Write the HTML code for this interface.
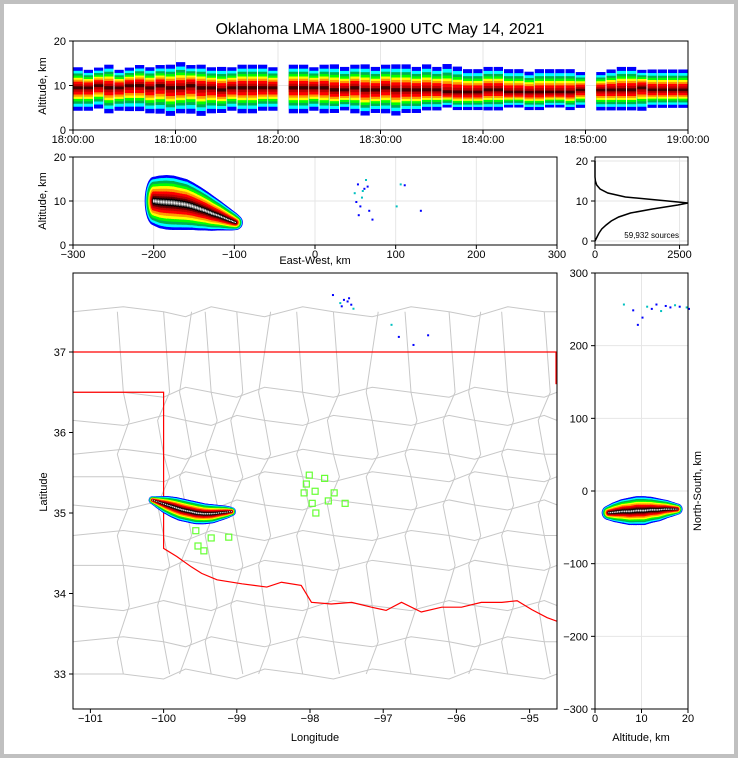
<!DOCTYPE html>
<html><head><meta charset="utf-8"><style>
html,body{margin:0;padding:0;background:#c0c0c0;}
svg{display:block;font-family:"Liberation Sans",sans-serif;}
</style></head><body>
<svg id="chart" width="738" height="758" viewBox="0 0 738 758">
<rect x="4" y="4" width="730" height="750" fill="#fff"/>
<text x="380" y="34" font-size="16" text-anchor="middle">Oklahoma LMA 1800-1900 UTC May 14, 2021</text>
<g id="layer"></g>
</svg>
<script>
// ---- data ----
const timeMinutes = [0,1,2,3,4,5,6,7,8,9,10,11,12,13,14,15,16,17,18,19,20,21,22,23,24,25,26,27,28,29,30,31,32,33,34,35,36,37,38,39,40,41,42,43,44,45,46,47,48,49,50,51,52,53,54,55,56,57,58,59];
const timeTops = [13.5,13,13.5,14,13,13.5,14,13.5,14,14,14.5,14,14,13.5,13.5,13.5,14,14,14,13.5,0,14,14,13.5,14,14,13.5,14,14,13.5,14,14,14,13.5,14,13.5,14,13.5,13,13,13.5,13.5,13,13,12.5,13,13,13,13,12.5,0,12.5,13,13.5,13.5,13,13,13,13,13];
const timeBots = [5,5,5.5,4.5,5,5,5,4.5,4.5,4,4.5,4.5,4,4.5,4.5,5,4.5,4.5,5,5,0,4.5,4.5,5,4.5,4.5,5,4.5,4,4.5,4.5,4,4.5,4.5,5,5,5.5,5,5,5,5,5,5.5,5.5,5,5,5.5,5.5,5,5.5,0,5,5,5,5,5,5.5,5.5,5.5,5.5];
const timeCore = [9.5,9.5,10,9.5,9.5,10,10,9.5,10,9.5,9.5,10,9.5,9.5,9,9.5,9.5,9.5,9.5,9.5,0,9.5,9.5,9.5,9.5,9,9,9.5,9,9,9.5,9,9,9,9,9,8.5,8.5,8.5,8.5,9,9,8.5,8.5,8.5,8.5,8.5,8.5,8.5,9,0,9,9,9,9,9.5,9,9,9,9];
const ewX = [-200,-192,-184,-176,-168,-160,-152,-144,-136,-128,-120,-112,-104,-97];
const ewAlt = [10,9.8,9.7,9.6,9.4,9.2,8.8,8.3,7.8,7.2,6.7,6.1,5.5,5];
const ewHalf = [5.5,6,6.2,6.2,6,5.8,5.4,5,4.5,4,3.4,2.8,2.2,1.6];
const ewSparseX = [48,52,55,57,60,50,62,66,53,58,64,70,105,110,130,100];
const ewSparseAlt = [12,14,9,11,13,10,15,8,7,12.5,13.5,6,14,13.8,8,9];
const histAlt = [0,1,2,3,4,5,6,7,8,9,9.5,10,11,12,13,14,15,16,20];
const histCount = [0,60,120,200,330,480,700,1050,1700,2450,2750,2150,900,380,150,50,12,0,0];
const nsAlt = [3,4.5,6,7.5,9,10.5,12,13.5,15,16.5,18];
const nsNS = [-30,-29,-28,-28,-27,-27,-26,-26,-25,-25,-25];
const nsHalf = [10,14,17,19,20,20,18,16,13,10,7];
const nsSparseAlt = [6,8,10,11,12,13,14,15,16,17,18,9,19.5,20];
const nsSparseNS = [258,250,240,255,252,258,249,256,254,257,255,230,254,252];
const blobLon = [-100.15,-100.05,-99.95,-99.85,-99.75,-99.65,-99.55,-99.45,-99.35,-99.25,-99.15,-99.05];
const blobLat = [35.16,35.13,35.1,35.07,35.04,35.02,35.0,34.99,34.99,35.0,35.01,35.02];
const blobHalf = [0.05,0.08,0.11,0.13,0.14,0.14,0.14,0.13,0.12,0.1,0.08,0.05];
const sparseLon = [-97.6,-97.55,-97.5,-97.45,-97.42,-97.58,-97.48,-97.7,-96.9,-96.8,-96.6,-96.4];
const sparseLat = [37.62,37.66,37.64,37.6,37.55,37.58,37.68,37.72,37.35,37.2,37.1,37.22];
const stationLon = [-98.01,-97.80,-98.05,-98.08,-97.93,-97.67,-97.97,-97.75,-97.52,-97.92,-99.56,-99.35,-99.11,-99.53,-99.45];
const stationLat = [35.47,35.43,35.36,35.25,35.27,35.25,35.12,35.15,35.12,35.00,34.78,34.69,34.70,34.59,34.53];
const redRiverLon = [-100.0,-99.82,-99.62,-99.48,-99.27,-98.93,-98.59,-98.39,-98.12,-97.98,-97.71,-97.43,-97.16,-96.96,-96.75,-96.48,-96.2,-95.93,-95.66,-95.38,-95.17,-94.97,-94.76,-94.58];
const redRiverLat = [34.56,34.46,34.33,34.25,34.17,34.12,34.08,34.14,34.1,33.89,33.87,33.89,33.83,33.79,33.89,33.77,33.83,33.83,33.89,33.89,33.91,33.80,33.70,33.64];
const countyLons = [-100.55,-100.0,-99.7,-99.35,-99.0,-98.62,-98.1,-97.68,-97.15,-96.62,-96.1,-95.75,-95.3,-94.8];
const countyLats = [37.5,36.5,36.15,35.73,35.45,35.1,34.72,34.35,33.85,33.4,33.0];
// ---- helpers ----
const NS='http://www.w3.org/2000/svg';
const layer=document.getElementById('layer');
function el(tag,attrs,parent){const e=document.createElementNS(NS,tag);for(const k in attrs)e.setAttribute(k,attrs[k]);(parent||layer).appendChild(e);return e;}
function txt(x,y,s,size,anchor,parent,rot){const t=el('text',{x:x,y:y,'font-size':size,'text-anchor':anchor||'middle'},parent);if(rot)t.setAttribute('transform','rotate(-90 '+x+' '+y+')');t.textContent=s;return t;}
const palette=['#0000ff','#00ffff','#00b050','#00ff00','#ffff00','#ff9900','#ff0000','#c00000','#600000','#000000','#909090','#ffffff'];
const scales=[1.0,0.9,0.8,0.7,0.6,0.5,0.4,0.3,0.22,0.15,0.09,0.04];
function lin(d0,d1,p0,p1){return v=>p0+(v-d0)*(p1-p0)/(d1-d0);}
function frame(x,y,w,h,name){const r=el('rect',{x:x,y:y,width:w,height:h,fill:'none',stroke:'#000','stroke-width':1});}
function grid(g,xs,ys,x0,x1,y0,y1){xs.forEach(x=>el('line',{x1:x,x2:x,y1:y0,y2:y1,stroke:'#e6e6e6'},g));ys.forEach(y=>el('line',{x1:x0,x2:x1,y1:y,y2:y,stroke:'#e6e6e6'},g));}
function blob(g,px,py,pr,prx){
  for(let L=0;L<palette.length;L++){
    for(let i=0;i<px.length-1;i++){for(let s=0;s<4;s++){const f=s/4;
      const x=px[i]+(px[i+1]-px[i])*f,y=py[i]+(py[i+1]-py[i])*f,r=(pr[i]+(pr[i+1]-pr[i])*f)*scales[L],rx=(prx?(prx[i]+(prx[i+1]-prx[i])*f)*scales[L]:r);
      el('ellipse',{cx:x,cy:y,rx:Math.max(rx,0.5),ry:Math.max(r,0.5),fill:palette[L]},g);}}
  }
}
// ---- panel 1: time-height ----
(function(){
 const X=lin(0,60,73,688),Y=lin(0,20,130,41);
 const g=el('g',{});
 grid(g,[0,10,20,30,40,50,60].map(X),[0,10,20].map(Y),73,688,41,130);
 const w=X(1)-X(0);
 const tp=['#0000ff','#00ffff','#00b050','#00ff00','#ffff00','#ff9900','#ff0000','#c00000','#400000'];
 const ts=[1.15,0.95,0.8,0.68,0.56,0.45,0.34,0.2,0.08];
 timeMinutes.forEach((m,i)=>{if(!timeTops[i])return;
   const top=timeTops[i],bot=timeBots[i],c=timeCore[i];
   for(let L=0;L<tp.length;L++){const s=ts[L];const t=c+(top-c)*s,b=c-(c-bot)*s;
     const r=el('rect',{x:X(m)+0.5,y:Y(t),width:w-1,height:Y(b)-Y(t),fill:tp[L]},g);
     }
 });
 frame(73,41,615,89,'time-height-frame');
 ['18:00:00','18:10:00','18:20:00','18:30:00','18:40:00','18:50:00','19:00:00'].forEach((s,i)=>{const x=X(i*10);el('line',{x1:x,x2:x,y1:130,y2:134,stroke:'#000'});txt(x,143,s,11);});
 [0,10,20].forEach(v=>{el('line',{x1:69,x2:73,y1:Y(v),y2:Y(v),stroke:'#000'});txt(66,Y(v)+4,String(v),11,'end');});
 const t=txt(46,86,'Altitude, km',11,'middle',null,true);
})();
// ---- panel 2: EW-altitude ----
(function(){
 const X=lin(-300,300,73,557),Y=lin(0,20,245,157);
 const g=el('g',{});
 grid(g,[-300,-200,-100,0,100,200,300].map(X),[0,10,20].map(Y),73,557,157,245);
 blob(g,ewX.map(X),ewAlt.map(Y),ewHalf.map(h=>h*4.4),ewHalf.map(h=>Math.min(h*4.4,9)));
 ewSparseX.forEach((v,i)=>{const r=el('rect',{x:X(v),y:Y(ewSparseAlt[i]),width:2,height:2,fill:i%3?'#0000ff':'#00c0c0'},g);});
 frame(73,157,484,88,'ew-altitude-frame');
 [-300,-200,-100,0,100,200,300].forEach(v=>{const x=X(v);el('line',{x1:x,x2:x,y1:245,y2:249,stroke:'#000'});txt(x,258,v<0?'\u2212'+(-v):String(v),11);});
 [0,10,20].forEach(v=>{el('line',{x1:69,x2:73,y1:Y(v),y2:Y(v),stroke:'#000'});txt(66,Y(v)+4,String(v),11,'end');});
 txt(46,201,'Altitude, km',11,'middle',null,true);
 txt(315,264,'East-West, km',11);
})();
// ---- panel 3: histogram ----
(function(){
 const X=lin(0,2750,595,688),Y=lin(0,20,241,161);
 const g=el('g',{});
 grid(g,[0,2500].map(X),[0,10,20].map(Y),595,688,157,245);
 const p=el('polyline',{points:histAlt.map((a,i)=>X(histCount[i])+','+Y(a)).join(' '),fill:'none',stroke:'#000','stroke-width':1.5},g);
 
 frame(595,157,93,88,'histogram-frame');
 [0,2500].forEach(v=>{const x=X(v);el('line',{x1:x,x2:x,y1:245,y2:249,stroke:'#000'});txt(x,258,String(v),11);});
 [0,10,20].forEach(v=>{el('line',{x1:591,x2:595,y1:Y(v),y2:Y(v),stroke:'#000'});txt(588,Y(v)+4,String(v),11,'end');});
 txt(679,238,'59,932 sources',8,'end');
})();
// ---- panel 4: map ----
(function(){
 const X=lin(-98,-97,310,383.2),Y=lin(35,34,513,593.5);
 const g=el('g',{});
 const cpath=el('clipPath',{id:'mc'},g);el('rect',{x:73,y:273,width:484,height:436},cpath);
 const m=el('g',{'clip-path':'url(#mc)'},g);
 countyLons.forEach((lo,i)=>{const pts=[];for(let k=0;k<countyLats.length;k++){pts.push((X(lo)+((k+i)%3-1)*6)+','+Y(countyLats[k]));}
   el('polyline',{points:pts.join(' '),fill:'none',stroke:'#c8c8c8','stroke-width':1},m);});
 countyLats.forEach((la,i)=>{const pts=[];for(let k=0;k<countyLons.length;k++){pts.push(X(countyLons[k])+','+(Y(la)+((k+i)%3-1)*5));}
   el('polyline',{points:'73,'+Y(la)+' '+pts.join(' ')+' 557,'+Y(la),fill:'none',stroke:'#c8c8c8','stroke-width':1},m);});
 el('polyline',{points:'73,'+Y(37)+' 557,'+Y(37),fill:'none',stroke:'#ff0000','stroke-width':1.2},m);
 const w=[ '73,'+Y(36.5), X(-100)+','+Y(36.5) ].concat(redRiverLon.map((lo,i)=>X(lo)+','+Y(redRiverLat[i])));
 const rr=el('polyline',{points:w.join(' '),fill:'none',stroke:'#ff0000','stroke-width':1.2},m);
 
 el('line',{x1:556,x2:556,y1:Y(37),y2:Y(36.6),stroke:'#ff0000','stroke-width':1.2},m);
 blob(m,blobLon.map(X),blobLat.map(Y),blobHalf.map(h=>h*80.5),blobHalf.map(h=>Math.min(h*80.5,12)));
 sparseLon.forEach((lo,i)=>{const r=el('rect',{x:X(lo),y:Y(sparseLat[i]),width:2,height:2,fill:i%4?'#0000ff':'#00c0c0'},m);});
 stationLon.forEach((lo,i)=>{const r=el('rect',{x:X(lo)-3,y:Y(stationLat[i])-3,width:6,height:6,fill:'none',stroke:'#66ff33','stroke-width':1.2},m);});
 frame(73,273,484,436,'map-frame');
 [-101,-100,-99,-98,-97,-96,-95].forEach(v=>{const x=X(v);el('line',{x1:x,x2:x,y1:709,y2:713,stroke:'#000'});txt(x,722,'\u2212'+(-v),11);});
 [33,34,35,36,37].forEach(v=>{el('line',{x1:69,x2:73,y1:Y(v),y2:Y(v),stroke:'#000'});txt(66,Y(v)+4,String(v),11,'end');});
 txt(47,492,'Latitude',11,'middle',null,true);
 txt(315,741,'Longitude',11);
})();
// ---- panel 5: NS-altitude ----
(function(){
 const X=lin(0,20,595,688),Y=lin(-300,300,709,273);
 const g=el('g',{});
 grid(g,[0,10,20].map(X),[-300,-200,-100,0,100,200,300].map(Y),595,688,273,709);
 blob(g,nsAlt.map(X),nsNS.map(Y),nsHalf.map(h=>h*0.727),nsHalf.map(h=>Math.min(h*0.727,9)));
 nsSparseAlt.forEach((a,i)=>{const r=el('rect',{x:X(a),y:Y(nsSparseNS[i]),width:2,height:2,fill:i%3?'#0000ff':'#00c0c0'},g);});
 frame(595,273,93,436,'ns-altitude-frame');
 [0,10,20].forEach(v=>{const x=X(v);el('line',{x1:x,x2:x,y1:709,y2:713,stroke:'#000'});txt(x,722,String(v),11);});
 [-300,-200,-100,0,100,200,300].forEach(v=>{el('line',{x1:591,x2:595,y1:Y(v),y2:Y(v),stroke:'#000'});txt(588,Y(v)+4,v<0?'\u2212'+(-v):String(v),11,'end');});
 txt(701,491,'North-South, km',11,'middle',null,true);
 txt(641,741,'Altitude, km',11);
})();
</script>
</body></html>
